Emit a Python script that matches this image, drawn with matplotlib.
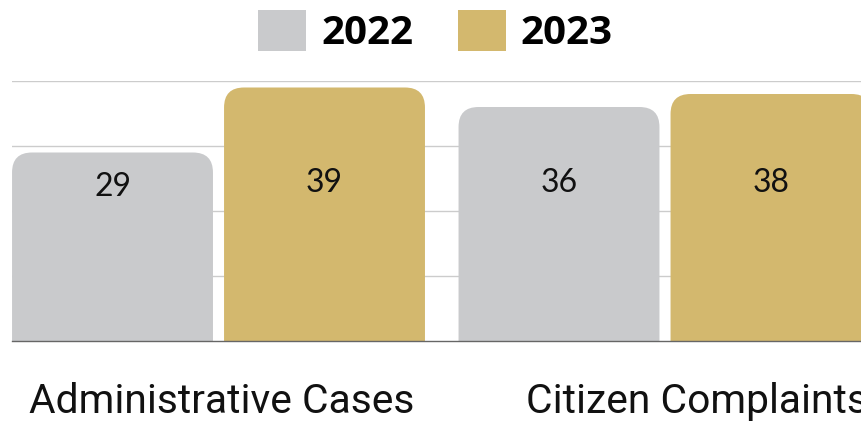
import matplotlib
matplotlib.use("Agg")
import matplotlib.pyplot as plt
from matplotlib.patches import FancyBboxPatch, Patch

# data
categories = ["Administrative Cases", "Citizen Complaints"]
years = ["2022", "2023"]
values_2022 = [29, 36]
values_2023 = [39, 38]
colors = ["#C9CACC", "#D3B86E"]

W, H = 862, 423
fig = plt.figure(figsize=(W / 100, H / 100), dpi=100)
ax = fig.add_axes([12 / W, (H - 341) / H, 850 / W, 260 / H])
ax.set_xlim(-0.4625, 1.4412)
ax.set_ylim(0, 40)

# px -> data scale, used for the rounded corners
x_per_px = (1.4412 + 0.4625) / 850
y_per_px = 40 / 260
radius = 20 * x_per_px

width = 0.45
offset = 0.2374
for series, vals, col in [(0, values_2022, colors[0]), (1, values_2023, colors[1])]:
    xs = [i + (offset if series else -offset) for i in range(len(vals))]
    bars = ax.bar(xs, vals, width=width, color=col)
    for b, v in zip(bars, vals):
        b.set_visible(False)
        p = FancyBboxPatch((b.get_x(), -3), b.get_width(), v + 3,
                           boxstyle=f"round,pad=0,rounding_size={radius}",
                           mutation_aspect=y_per_px / x_per_px,
                           fc=col, ec="none", zorder=2)
        ax.add_patch(p)
        ax.text(b.get_x() + b.get_width() / 2, min(v - 5.3, 24.3), str(v),
                ha="center", va="center", fontsize=23, family="Lato",
                color="#111111", zorder=3)

ax.set_yticks([10, 20, 30, 40])
ax.yaxis.grid(True, color="#CCCCCC", lw=1)
ax.set_axisbelow(True)
ax.tick_params(left=False, labelleft=False, bottom=False, labelbottom=False)
for s in ["top", "right", "left"]:
    ax.spines[s].set_visible(False)
ax.spines["bottom"].set_color("#666666")
ax.spines["bottom"].set_linewidth(1)

label_x = [0.008, 1.072]
for x, c in zip(label_x, categories):
    ax.text(x, -0.277, c, transform=ax.get_xaxis_transform(), ha="center",
            va="baseline", fontsize=29.3, family="Roboto", color="#111111",
            clip_on=False)

handles = [Patch(fc=colors[0], ec="none"), Patch(fc=colors[1], ec="none")]
fig.legend(handles, years, loc="center", bbox_to_anchor=(435.5 / W, 1 - 31.5 / H),
           ncol=2, frameon=False, handlelength=1.2, handleheight=1.2,
           handletextpad=0.37, columnspacing=1.1,
           prop={"family": "Open Sans", "weight": "bold", "size": 29})

fig.savefig("out.png", dpi=100)
